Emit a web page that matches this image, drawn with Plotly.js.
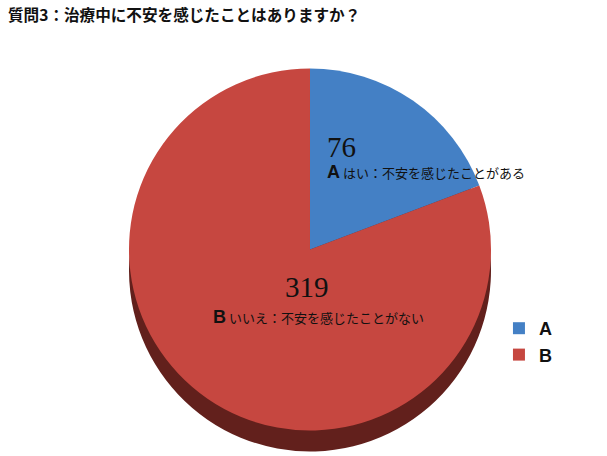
<!DOCTYPE html>
<html>
<head>
<meta charset="utf-8">
<script src="https://cdn.plot.ly/plotly-3.0.1.min.js"></script>
<style>
  html, body { margin: 0; padding: 0; background: #ffffff; }
  #plot { width: 607px; height: 456px; }
</style>
</head>
<body>
<div id="plot"></div>
<script>
const chartTitle = "質問3：治療中に不安を感じたことはありますか？";
const labels = ["A", "B"];
const values = [76, 319];
const answers = ["はい：不安を感じたことがある", "いいえ：不安を感じたことがない"];
const topColors = ["#4480C5", "#C64740"];
const sideColors = ["#23446b", "#62201C"];

const jpFont = '"Noto Sans CJK JP", "Noto Sans", sans-serif';
const serifFont = '"Liberation Serif", "DejaVu Serif", serif';

// top face and a darker copy pushed down to fake the 3D rim
const face = {
  type: "pie",
  labels: labels,
  values: values,
  sort: false,
  direction: "clockwise",
  rotation: 0,
  marker: { colors: topColors, line: { width: 0 } },
  textinfo: "none",
  hoverinfo: "none",
  domain: { x: [0.2125, 0.8089], y: [0.0548, 0.8509] },
};

const rim = Object.assign({}, face, {
  marker: { colors: sideColors, line: { width: 0 } },
  showlegend: false,
  domain: { x: [0.2125, 0.8089], y: [0.0088, 0.8049] },
});

const labelSpots = [
  { numX: 327, x: 327, num: 147, txt: 172 },
  { numX: 285, x: 213, num: 287, txt: 317 },
];

const annotations = [];
labels.forEach((lab, i) => {
  const spot = labelSpots[i];
  annotations.push({
    xref: "paper", yref: "paper",
    x: (spot.numX - 2) / 607, y: 1 - spot.num / 456,
    xanchor: "left", yanchor: "middle",
    text: String(values[i]),
    showarrow: false,
    font: { family: serifFont, size: 29, color: "#111111" },
  });
  annotations.push({
    xref: "paper", yref: "paper",
    x: (spot.x - 2) / 607, y: 1 - spot.txt / 456,
    xanchor: "left", yanchor: "middle",
    text: "<b><span style='font-size:18px;font-family:Liberation Sans, Arial, sans-serif'>" + lab +
      "</span></b> " + answers[i],
    showarrow: false,
    font: { family: jpFont, size: 13, color: "#111111" },
  });
});

const layout = {
  width: 607,
  height: 456,
  paper_bgcolor: "#ffffff",
  margin: { l: 0, r: 0, t: 0, b: 0 },
  title: {
    text: "<b>" + chartTitle + "</b>",
    xref: "container", yref: "container",
    x: 8 / 607, xanchor: "left",
    y: 1 - 16 / 456, yanchor: "middle",
    font: { family: jpFont, size: 15.6, color: "#111111" },
  },
  showlegend: true,
  legend: {
    x: 0.822, xanchor: "left",
    y: 1 - 310 / 456, yanchor: "top",
    font: { family: '"Liberation Sans", Arial, sans-serif', size: 18, weight: "bold", color: "#111111" },
    traceorder: "normal",
    bgcolor: "rgba(0,0,0,0)",
  },
  annotations: annotations,
};

Plotly.newPlot("plot", [rim, face], layout, { displayModeBar: false, staticPlot: true });
</script>
</body>
</html>
